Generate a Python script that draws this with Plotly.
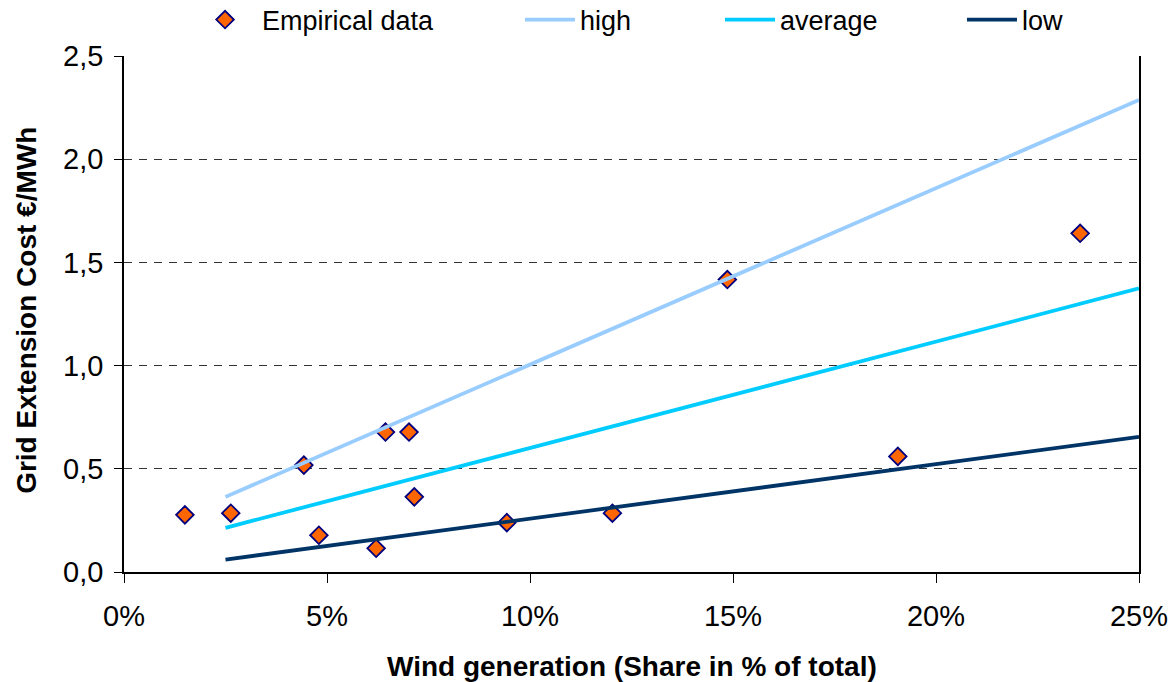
import plotly.graph_objects as go

# Empirical data (wind share in %, grid extension cost in EUR/MWh)
emp_x = [1.50, 2.63, 4.43, 4.80, 6.21, 6.44, 7.02, 7.15, 9.43, 12.03, 14.86, 19.06, 23.55]
emp_y = [0.277, 0.285, 0.518, 0.178, 0.115, 0.678, 0.678, 0.364, 0.239, 0.285, 1.417, 0.560, 1.641]

# Trend lines (end points)
line_x = [2.5, 25.0]
high_y = [0.364, 2.287]
avg_y = [0.214, 1.374]
low_y = [0.060, 0.655]

x_ticks = [0, 5, 10, 15, 20, 25]
x_tick_labels = ["0%", "5%", "10%", "15%", "20%", "25%"]
y_ticks = [0.0, 0.5, 1.0, 1.5, 2.0, 2.5]

FONT = "Liberation Sans, Arial, sans-serif"

fig = go.Figure()
fig.add_trace(go.Scatter(
    x=emp_x, y=emp_y, mode="markers", name="Empirical data",
    marker=dict(symbol="diamond", size=13.5, color="#FF6600",
                line=dict(color="#000080", width=1.8)),
    legend="legend"))
fig.add_trace(go.Scatter(x=line_x, y=high_y, mode="lines", name="high",
                         line=dict(color="#99CCFF", width=3.8), legend="legend2"))
fig.add_trace(go.Scatter(x=line_x, y=avg_y, mode="lines", name="average",
                         line=dict(color="#00CCFF", width=3.8), legend="legend3"))
fig.add_trace(go.Scatter(x=line_x, y=low_y, mode="lines", name="low",
                         line=dict(color="#003366", width=3.8), legend="legend4"))

leg_common = dict(orientation="h", yanchor="middle", y=1.0698, xanchor="left",
                  font=dict(family=FONT, size=27, color="#000000"),
                  bgcolor="rgba(0,0,0,0)", borderwidth=0)

fig.update_layout(
    width=1172, height=682,
    margin=dict(l=124, r=33, t=56, b=110, autoexpand=False),
    paper_bgcolor="white", plot_bgcolor="white",
    separators=", ",
    font=dict(family=FONT, size=29, color="#000000"),
    legend=dict(x=0.0631, itemwidth=64, **leg_common),
    legend2=dict(x=0.3901, itemwidth=50, **leg_common),
    legend3=dict(x=0.5872, itemwidth=50, **leg_common),
    legend4=dict(x=0.8256, itemwidth=50, **leg_common),
    xaxis=dict(range=[0, 25], tickmode="array", tickvals=x_ticks, ticktext=x_tick_labels,
               showgrid=False, zeroline=False,
               showline=True, linecolor="#000000", linewidth=1.5,
               ticks="outside", ticklen=9, tickcolor="#000000",
               ticklabelstandoff=8,
               tickfont=dict(size=29), fixedrange=True),
    yaxis=dict(range=[0, 2.5], tickvals=y_ticks, tickformat=".1f",
               showgrid=True, gridcolor="#333333", gridwidth=1, griddash="8px,7px",
               zeroline=False,
               showline=True, linecolor="#000000", linewidth=1.5, mirror=True,
               ticks="outside", ticklen=8, tickcolor="#000000",
               ticklabelstandoff=5,
               tickfont=dict(size=29), fixedrange=True),
    annotations=[
        dict(text="<b>Wind generation (Share in % of total)</b>", xref="paper", yref="paper",
             x=0.5, y=-0.1822, xanchor="center", yanchor="middle", showarrow=False,
             font=dict(family=FONT, size=28, color="#000000")),
        dict(text="<b>Grid Extension Cost €/MWh</b>", xref="paper", yref="paper",
             x=-0.0956, y=0.508, xanchor="center", yanchor="middle", textangle=-90,
             showarrow=False, font=dict(family=FONT, size=28, color="#000000")),
    ],
    showlegend=True,
)

fig.write_html(
    "out.html",
    config={"displayModeBar": False},
    post_script="document.body.style.margin='0';document.body.style.overflow='hidden';",
)
